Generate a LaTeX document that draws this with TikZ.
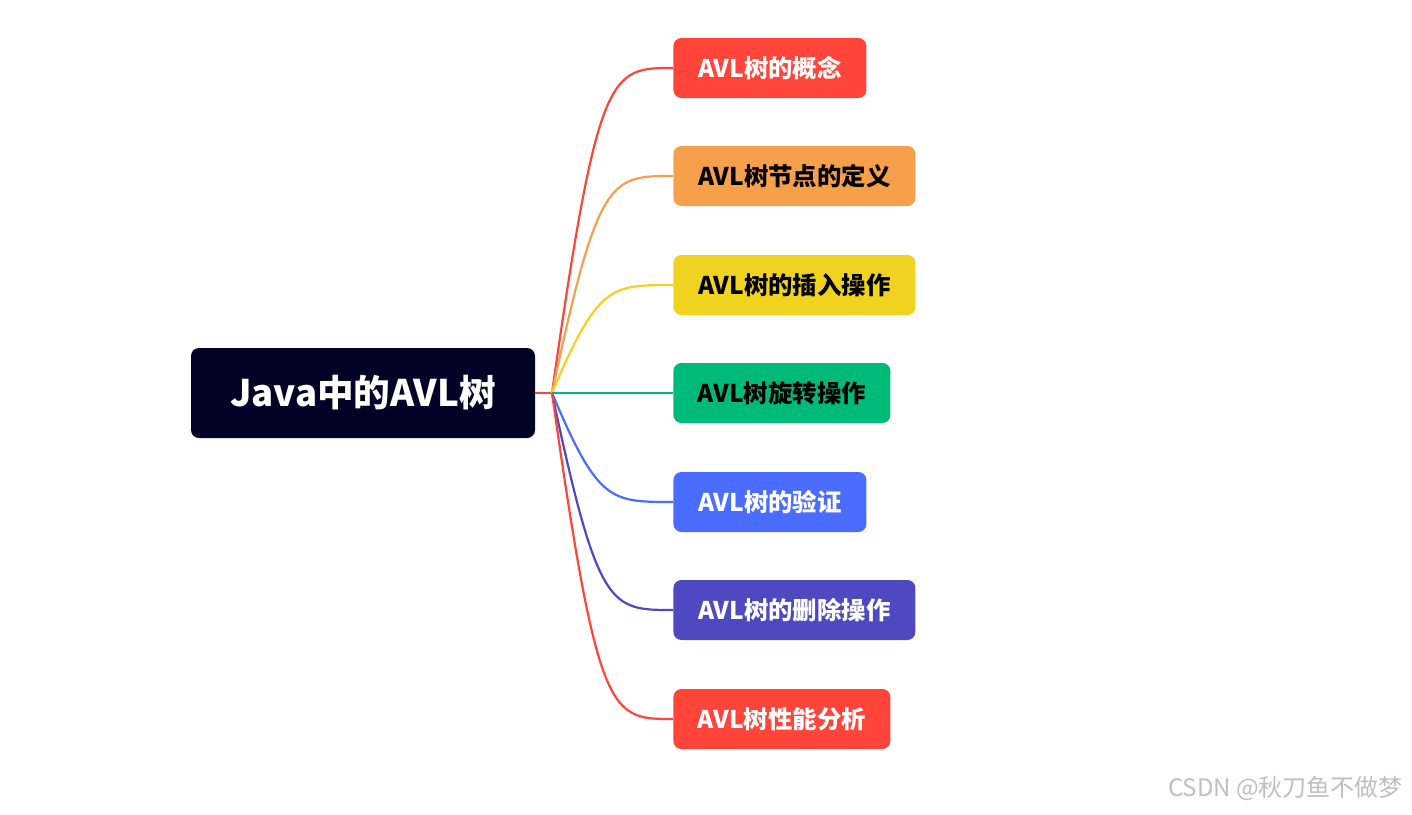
\documentclass[tikz,border=0pt]{standalone}
\usepackage{fontspec}
\setmainfont{Noto Sans CJK SC}
\usetikzlibrary{positioning}
\definecolor{rootc}{HTML}{020226}
\definecolor{cred}{HTML}{FF453A}
\definecolor{corange}{HTML}{F7A04B}
\definecolor{cyellow}{HTML}{F0D31E}
\definecolor{cgreen}{HTML}{00BA78}
\definecolor{cblue}{HTML}{4A6CFF}
\definecolor{cpurple}{HTML}{4E49C0}

\begin{document}
\begin{tikzpicture}[
    x=0.5pt, y=-0.5pt,
    rootnode/.style={fill=rootc, text=white, rounded corners=4pt, minimum width=172pt, minimum height=45pt, font=\fontsize{18.3}{20}\selectfont\bfseries},
    leafnode/.style={rounded corners=4pt, minimum height=30pt, inner xsep=0pt, anchor=west, font=\fontsize{12.2}{14}\selectfont\bfseries},
    branch/.style={line width=1.1pt}
]
    \useasboundingbox (0,0) rectangle (1412,814);

    \node[rootnode] (root) at (363,393) {Java中的AVL树};
    \coordinate (hub) at (552,393);
    \draw[branch, cred] (root.east) -- (hub);

    \foreach \i/\y/\w/\col/\txt/\leaftext in {
        1/68/96.5/cred/white/AVL树的概念,
        2/176/121/corange/black/AVL树节点的定义,
        3/285/121/cyellow/black/AVL树的插入操作,
        4/393/108.5/cgreen/black/AVL树旋转操作,
        5/502/96.5/cblue/white/AVL树的验证,
        6/610/121/cpurple/white/AVL树的删除操作,
        7/719/108.5/cred/white/AVL树性能分析} {
        \node[leafnode, fill=\col, text=\txt, minimum width=\w pt] (leaf\i) at (673,\y) {\leaftext};
        \draw[branch, \col] (hub) .. controls (598,\y) and (610,\y) .. (leaf\i.west);
    }

    \node[text=black!25, font=\fontsize{12}{14}\selectfont, anchor=east] (mark) at (1410,788) {CSDN @秋刀鱼不做梦};
\end{tikzpicture}
\end{document}
